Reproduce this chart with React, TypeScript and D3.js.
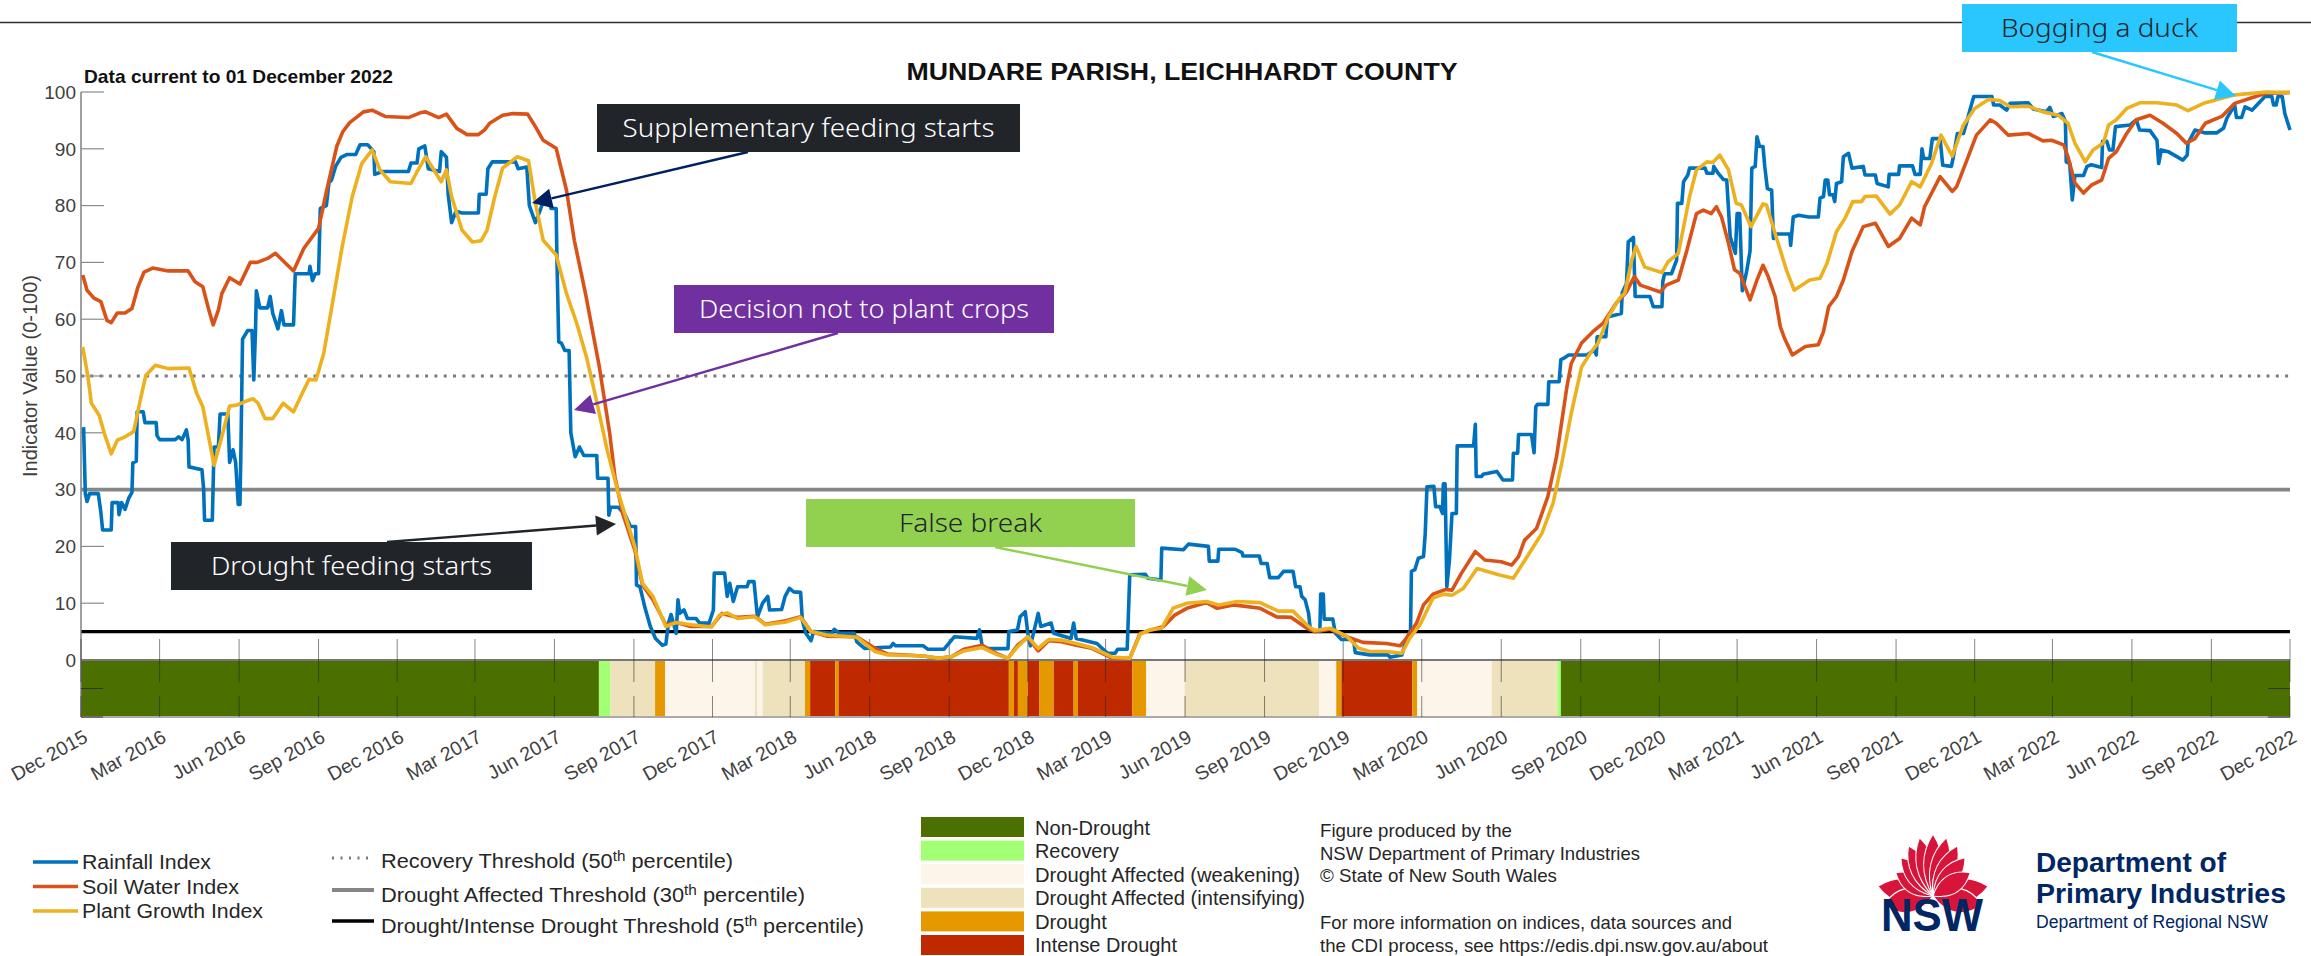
import React from 'react';
import * as d3 from 'd3';

// all series are [days since 1 Dec 2015, index value]
const rainfall: [number, number][] = [
  [3,41],[5,29.3],[7,27.9],[10,29.3],[20,29.3],[23,26],[25,22.9],[35,22.9],[36,27.7],[43,27.7],[44,25.6],[47,27.7],[51,26.5],[55,28.4],[59,29.5],[60,34.7],[64,35],[65,43.7],[72,43.7],[74,41.8],[87,41.8],[88,39.5],[91,38.8],[109,38.8],[113,39.3],[117,38.8],[122,40.5],[124,38.8],[125,34],[140,33.5],[142,30],[143,24.6],[152,24.6],[153,31],[154,37.5],[159,37.5],[161,43.3],[170,43.3],[172,34.8],[176,37],[179,34.8],[182,27.4],[184,27.4],[185,36],[187,56.5],[193,58],[198,58],[200,49.3],[202,58],[203,65],
  [207,62],[216,62],[219,64],[222,61],[228,58.3],[232,61.5],[235,59],[246,59],[248,68],[264,68],[265,69.3],[268,66.8],[271,68],[275,68],[277,79.5],[284,80],[287,84],[290,84.5],[295,87],[301,88.5],[308,89],[318,89],[323,90.7],[332,90.7],[339,89.5],[340,85.5],[349,86],[379,86],[382,87.5],[389,87.5],[391,90],[398,90.5],[402,86.5],[415,86],[417,89.5],[423,88.5],[425,82],[429,77],[434,79],[441,78.7],[460,78.7],[461,82],[469,82],[471,86.5],[476,87.7],[503,87.7],[506,86.5],[516,86.8],[519,80],[526,77],[531,79],[537,81.5],[541,81.5],[544,79.5],[550,79.5],[551,70],[553,56],[556,55.8],[560,54.5],[565,54.5],[567,40],
  [572,35.8],[577,37.5],[582,36],[597,36],[598,32],[610,32],[611,25.5],[613,26.9],[622,26.9],[630,25.5],[636,23.5],[642,23.5],[643,13.2],[647,12.9],[653,9.1],[659,5.9],[665,3.8],[673,2.6],[677,2.8],[680,6.5],[683,8],[689,4.7],[691,10.6],[693,8.2],[698,8.8],[702,7.3],[712,7.3],[716,6.5],[727,6.5],[732,8.8],[733,15.3],[745,15.3],[748,11.2],[751,13.5],[755,10.3],[760,12.9],[771,12.9],[773,13.8],[779,13.8],[783,7.6],[789,10],[795,11.2],[797,8.8],[811,8.9],[815,11.2],[820,12.6],[825,12],[833,11.9],[835,7],[839,4.7],[845,3.4],[848,5],[869,4.7],[872,5.4],[878,4.7],[895,4.7],[898,3.2],[907,2.05],[937,2.3],[940,2.9],[943,2.5],[975,2.5],[980,1.9],[999,1.9],[1011,4.1],[1037,3.8],[1040,5.3],[1043,2.6],[1049,2],[1073,2],[1074,5],[1084,5.3],[1087,7.6],[1093,8.5],[1096,4.7],[1099,2.5],[1108,8.2],[1111,5.9],[1123,6.5],[1126,4.7],[1146,3.8],[1149,6.5],[1152,3.8],[1176,2.9],[1188,1.2],[1197,1.2],[1200,1.9],[1211,1.9],[1214,15],[1232,15.1],[1235,14.4],
  [1250,14.1],[1251,19.7],[1276,19.4],[1282,20.4],[1305,20],[1306,17.4],[1316,17.4],[1317,19.5],[1336,19.5],[1344,18.9],[1345,18.3],[1364,18.3],[1366,17],[1373,17],[1376,14.5],[1386,14.5],[1392,15.6],[1403,15.6],[1406,12.9],[1411,12.9],[1413,11.2],[1417,10.6],[1421,8.2],[1423,5.3],[1434,5],[1435,11.6],[1438,11.6],[1439,7.2],[1449,7.2],[1452,4.7],[1459,3.6],[1473,3.6],[1475,1.3],[1492,0.9],[1513,0.9],[1515,0.5],[1529,0.9],[1534,3.5],[1539,5.3],[1540,15.6],[1544,15.9],[1548,17.9],[1554,18.2],[1556,22.3],[1558,30.5],[1566,30.6],[1568,27],[1573,27],[1576,25.8],[1577,31],[1579,31],[1581,12.9],[1584,17.6],[1587,25.8],[1592,25.8],[1593,37.7],[1612,37.7],[1614,41.5],[1615,32.3],[1621,32.3],[1623,32.7],[1633,33],[1639,33.2],[1646,31.7],[1657,31.7],[1658,36.4],[1663,36.4],[1664,39.7],[1679,39.7],[1682,36.5],[1684,44.6],[1686,45],[1698,45],[1699,49],[1711,49],[1713,52.9],
  [1716,53.1],[1722,53.7],[1743,53.7],[1752,54.6],[1754,53.7],[1755,56.9],[1765,56.9],[1767,60.4],[1783,61],[1784,64.6],[1789,66.3],[1791,73.6],[1797,74.4],[1799,64],[1816,64],[1820,62.2],[1830,62.2],[1831,66.6],[1833,68],[1841,68],[1847,70.4],[1848,80.4],[1853,80.4],[1855,84.2],[1860,85.4],[1862,86.6],[1880,86.6],[1882,85.7],[1889,85.7],[1890,86.9],[1895,85.7],[1901,84.6],[1905,84.5],[1909,74.5],[1915,71.6],[1917,78.6],[1920,78.6],[1923,65],[1928,68.4],[1932,72],[1934,86.6],[1938,86.9],[1940,92.1],[1943,90.4],[1947,90.4],[1949,86.9],[1952,83],[1957,82.7],[1959,74.2],[1963,75],[1978,75],[1979,73],[1982,78],[1988,78.3],[2000,78],[2011,78],[2013,81.3],[2017,81.6],[2019,84.5],[2022,84.5],[2024,81.9],[2028,81.9],[2030,80.7],[2032,83.9],[2038,84.2],[2040,88.6],[2046,89.2],[2050,86.6],[2063,86.9],[2065,85.4],[2077,85.4],[2079,83.9],[2092,83.3],[2093,85.5],[2104,85.5],[2105,87],
  [2120,87],[2123,85.5],[2129,85.5],[2131,90],[2133,88.3],[2140,88.3],[2143,91.8],[2152,91.8],[2155,87.1],[2165,86.9],[2167,88.3],[2172,92.7],[2179,92.7],[2183,94.8],[2187,97.1],[2191,99.2],[2212,99.2],[2214,97.7],[2221,97.7],[2229,96.8],[2233,98],[2254,98.1],[2260,97],[2275,96.5],[2279,97.3],[2283,95.7],[2293,96.2],[2297,94.8],[2298,87.7],[2302,87.4],[2305,81],[2308,85.3],[2318,85.3],[2322,86.9],[2327,87.2],[2339,86.7],[2340,91.3],[2345,91.3],[2348,89.8],[2352,89.8],[2355,93.9],[2372,94.2],[2379,95.1],[2383,93.3],[2395,93.2],[2403,91.5],[2405,87.4],[2408,89.8],[2416,89.5],[2433,88],[2438,88.9],[2439,91],[2447,93.3],[2459,92.8],[2472,92.8],[2480,93.6],[2484,95.4],[2493,97.7],[2495,95.5],[2501,95.5],[2505,97.4],[2513,96.8],[2528,99.2],[2536,99.2],[2538,97.7],[2541,97.7],[2543,99.2],[2548,99.2],[2551,96.2],[2557,93.3],
];

const soilWater: [number, number][] = [
  [2,67.8],[7,65.1],[15,63.7],[23,63.1],[30,59.8],[35,59.4],[42,61.1],[51,61.1],[59,61.9],[66,65.7],[73,68.3],[83,69],[101,68.5],[124,68.5],[132,66.6],[141,65.7],[148,61.6],[153,59],[159,61.6],[163,64.5],[172,67.3],[184,66.2],[196,70],[204,70],[216,70.7],[225,71.6],[246,68.5],[258,72.5],[275,76],[284,82.4],[296,90.4],[303,93],[311,94.6],[327,96.5],[337,96.8],[352,95.7],[379,95.5],[394,96.4],[399,96.5],[414,95.5],[423,96.1],[435,93.6],[447,92.5],[460,92.5],[467,93.3],[473,94.5],[488,95.9],[500,96.2],[517,96.1],[526,93.9],[535,91.5],[550,90.1],[562,82.7],[571,73.9],[584,64.5],[600,51.6],[612,39.9],[618,32.3],[627,25.8],[641,19.4],[650,13.2],[662,10.6],[677,6.2],[689,6.6],[706,5.9],[730,5.9],[742,8.2],[760,7.5],[780,7.7],[792,6.3],[816,6.9],[833,7.6],[845,5],[863,4.2],[898,4.1],[919,2.05],[934,1.05],[975,0.7],[993,0.3],[1008,0.6],[1022,1.9],[1043,2.6],[1061,1.05],[1073,0.3],[1084,2.6],[1096,4],[1108,1.6],[1120,3.4],[1135,3.2],[1152,2.6],[1170,2.05],[1194,0.3],[1214,0.3],[1226,4.7],[1253,5.9],[1266,7.9],[1280,9.1],[1303,10.1],[1315,9.1],[1334,9.7],[1365,9.1],[1384,7.6],[1401,7.5],[1419,5.6],[1428,5],[1446,5.4],[1465,4.1],[1484,3.1],[1511,2.9],[1527,2.5],[1534,3.8],[1546,6.5],[1554,9.7],[1565,11.6],[1579,12.4],[1587,12.3],[1598,15.3],[1614,19.1],[1625,17.6],[1644,17.3],[1656,16.7],[1664,18.2],[1671,21.1],[1685,23.2],[1698,28.8],[1708,35.8],[1720,48.1],[1725,52.2],[1737,55.8],[1750,57.8],[1762,59.3],[1777,62.8],[1789,64.8],[1798,67.5],[1805,66],[1828,64.8],[1835,66],[1849,66.9],[1859,72.2],[1870,78.6],[1878,79.2],[1887,78.6],[1893,79.8],[1899,78],[1907,73.4],[1914,68.7],[1920,68.1],[1932,63.4],[1940,66.9],[1947,69.5],[1953,67.5],[1961,64],[1967,58.7],[1972,56.6],[1981,53.7],[1996,55.2],[2011,55.5],[2017,57.8],[2023,62.2],[2032,64],[2040,66.9],[2050,71.9],[2063,76.3],[2077,76.9],[2092,72.8],[2105,74.2],[2119,77.8],[2129,76.6],[2134,79.8],[2152,85.1],[2166,82.5],[2171,83.3],[2183,88],[2194,92.4],[2210,95.1],[2217,94.5],[2231,92.4],[2254,92.7],[2271,91.4],[2281,91.5],[2295,90.7],[2300,88.6],[2308,84],[2318,82.2],[2327,83.6],[2339,84.5],[2347,88.3],[2356,89.5],[2368,92.7],[2379,95.1],[2395,95.9],[2410,94.5],[2426,92.7],[2437,91],[2447,91.8],[2459,94.5],[2478,95.7],[2493,98],[2511,98.9],[2530,99.8],[2557,99.9],
];

const plantGrowth: [number, number][] = [
  [2,55.1],[8,49.9],[12,45.2],[21,43.1],[27,39.9],[35,36.3],[42,38.7],[51,39.3],[61,40.2],[69,46],[75,50.1],[86,51.9],[101,51.3],[125,51.4],[134,46.9],[141,44.6],[154,34.3],[163,39.3],[172,44.7],[181,44.9],[190,45.5],[199,46],[205,45.2],[213,42.5],[222,42.5],[234,45.2],[246,43.7],[255,46.6],[264,49.4],[272,49.3],[281,54],[293,64.5],[302,72.5],[314,81.6],[325,87.4],[337,89.8],[346,86.3],[358,84.2],[382,83.9],[388,85.7],[399,88.6],[417,84.2],[423,86.3],[429,81.6],[441,75.7],[453,73.6],[463,73.8],[470,75.7],[479,81.6],[488,86.6],[505,88.6],[518,87.9],[526,80.4],[535,73.9],[550,71.3],[562,64.5],[574,59.2],[585,53.4],[594,47.5],[609,37],[621,29.9],[641,20],[650,13.5],[662,11.2],[677,5.9],[689,6.6],[706,6.2],[730,5.8],[739,7.9],[748,8.3],[760,7.3],[780,7.6],[792,6.2],[816,6.7],[833,7.5],[845,5],[863,4.4],[898,4],[919,1.5],[934,0.9],[975,0.7],[993,0.3],[1008,0.6],[1022,1.6],[1043,2.2],[1061,0.9],[1073,0.3],[1084,2.3],[1096,4.1],[1108,2.05],[1120,3.6],[1135,3.5],[1152,2.9],[1170,2.2],[1194,0.5],[1214,0.3],[1226,4.5],[1237,5.3],[1251,5.6],[1264,9.1],[1280,10],[1303,10.3],[1317,9.7],[1338,10.3],[1365,10.1],[1386,8.6],[1403,8.6],[1421,5.9],[1428,5.2],[1446,5.6],[1465,4.2],[1479,2.05],[1492,1.5],[1511,1.5],[1529,1.2],[1538,3.8],[1550,6.2],[1565,10.9],[1577,11.6],[1587,11.4],[1600,12.6],[1616,16.1],[1641,15],[1658,14.4],[1679,19.4],[1691,22.3],[1704,27.6],[1714,34.6],[1725,43.4],[1737,51.6],[1747,54],[1756,55.8],[1768,60.4],[1781,63.7],[1787,64.6],[1795,70.4],[1800,72.8],[1810,69.2],[1830,68.2],[1837,70.1],[1849,71.6],[1862,81.6],[1870,86.3],[1882,87.7],[1889,87.6],[1897,88.9],[1907,86.3],[1916,80.4],[1922,80.1],[1933,76.3],[1947,80.3],[1951,80.1],[1961,75.1],[1974,68.7],[1983,65.1],[2001,66.9],[2013,67.2],[2021,69.8],[2032,75.4],[2042,77.8],[2051,80.7],[2061,80.7],[2065,81.6],[2078,81.7],[2094,78.5],[2105,80.1],[2119,84.2],[2129,83.3],[2142,87.4],[2153,92.4],[2166,88.7],[2179,94.2],[2192,97.1],[2208,98.7],[2221,98.5],[2233,97.4],[2254,97.5],[2271,96.5],[2289,95.9],[2300,94.5],[2308,91],[2320,87.7],[2329,89.8],[2341,91],[2347,94.2],[2356,95.1],[2368,97.1],[2383,98.1],[2403,98.1],[2426,97.7],[2439,96.7],[2457,98],[2493,99.5],[2530,100],[2557,99.9],
];

// drought category spans: [end day, category]; each starts where the previous ends
const cdiSpans: [number, number][] = [
  [599.5,0],[613,1],[664.5,3],[676,4],[780,2],[783,3],[789,2],[838,3],[844,4],[873,5],[877,4],[1074,5],[1080,4],[1084.5,5],[1096,4],[1109,5],[1126,4],[1149,5],[1154,4],[1217,5],[1233,4],[1277.5,2],[1433,3],[1453,2],[1459,4],[1541,5],[1546.5,4],[1633,2],[1709,3],[1713,1],[2557,0],
];

const cdiLabels = ['Non-Drought', 'Recovery', 'Drought Affected (weakening)', 'Drought Affected (intensifying)', 'Drought', 'Intense Drought'];
const cdiColors = ['#4C7000', '#A3FF73', '#FDF5E9', '#EEE2BD', '#E69800', '#BE2900'];
const cdiLabelWidths = [115, 84, 265, 270, 72, 142];

const yTicks = [0, 10, 20, 30, 40, 50, 60, 70, 80, 90, 100];

const indexNames = ['Rainfall Index', 'Soil Water Index', 'Plant Growth Index'];
const indexColors = ['#0072BD', '#D95319', '#EDB120'];
const indexWidths = [129, 157, 181];

const creditLines: [string, number, number][] = [
  ['Figure produced by the', 837, 192],
  ['NSW Department of Primary Industries', 860, 320],
  ['© State of New South Wales', 882, 237],
  ['For more information on indices, data sources and', 929, 412],
  ['the CDI process, see https://edis.dpi.nsw.gov.au/about', 952, 448],
];

const callouts = [
  { text: 'Supplementary feeding starts', box: [597, 104, 423, 48], fill: '#212529', ink: '#fff', line: '#002060', from: [748, 152], to: [532, 203], tw: 372 },
  { text: 'Decision not to plant crops', box: [674, 285, 380, 48], fill: '#7030A0', ink: '#fff', line: '#7030A0', from: [838, 333], to: [574, 410], tw: 330 },
  { text: 'Drought feeding starts', box: [171, 542, 361, 48], fill: '#212529', ink: '#fff', line: '#212529', from: [387, 542], to: [616, 524], tw: 281 },
  { text: 'False break', box: [806, 499, 329, 48], fill: '#92D050', ink: '#212529', line: '#92D050', from: [995, 547], to: [1207, 590], tw: 143 },
  { text: 'Bogging a duck', box: [1962, 4, 275, 48], fill: '#2AC7FF', ink: '#212529', line: '#2AC7FF', from: [2092, 52], to: [2236, 96], tw: 197 },
];

const start = new Date(Date.UTC(2015, 11, 1));
const end = new Date(Date.UTC(2022, 11, 1));
const dayToDate = (d: number) => new Date(start.getTime() + d * 864e5);

const sans = '"Liberation Sans", Arial, sans-serif';
const callFont = '"Noto Sans", Roboto, sans-serif';

const Arrow = ({ from, to, color }: { from: number[]; to: number[]; color: string }) => {
  const a = Math.atan2(to[1] - from[1], to[0] - from[0]);
  const len = 20, half = 10;
  const bx = to[0] - len * Math.cos(a), by = to[1] - len * Math.sin(a);
  const pts = [
    [to[0], to[1]],
    [bx - half * Math.sin(a), by + half * Math.cos(a)],
    [bx + half * Math.sin(a), by - half * Math.cos(a)],
  ];
  return (
    <g>
      <line x1={from[0]} y1={from[1]} x2={bx} y2={by} stroke={color} strokeWidth={2.4} />
      <polygon points={pts.map(p => p.join(',')).join(' ')} fill={color} />
    </g>
  );
};

const Waratah = () => {
  const upper = [[-58, 44], [-40, 50], [-26, 56], [-13, 60], [0, 62], [13, 60], [26, 56], [40, 50], [58, 44]];
  const lower = [[-80, 56], [80, 56], [-100, 50], [100, 50]];
  const petal = (l: number, w: number) =>
    `M0,0C${w},${-l * 0.35} ${w * 0.9},${-l * 0.7} 0,${-l}C${-w * 0.9},${-l * 0.7} ${-w},${-l * 0.35} 0,0Z`;
  return (
    <g transform="translate(1933,896)">
      {lower.map((p, i) => (
        <path key={i} d={petal(p[1], 17)} transform={`rotate(${p[0]})`} fill="#D7153A" stroke="#fff" strokeWidth={1.2} />
      ))}
      {upper.map((p, i) => (
        <path key={i} d={petal(p[1], 13)} transform={`rotate(${p[0]})`} fill="#D7153A" stroke="#fff" strokeWidth={1.2} />
      ))}
    </g>
  );
};

export default function App() {
  const x = d3.scaleUtc().domain([start, end]).range([81, 2290]);
  const y = d3.scaleLinear().domain([0, 100]).range([660, 92]);
  const bandTop = 660, bandBottom = 717;

  const line = d3.line<[number, number]>()
    .x(d => x(dayToDate(d[0])))
    .y(d => y(d[1]));

  const xTicks = d3.utcMonth.range(start, new Date(end.getTime() + 864e5), 3);
  const fmt = d3.utcFormat('%b %Y');

  let prev = 0;
  const spans = cdiSpans.map(([e, c]) => {
    const s = { x0: x(dayToDate(prev)), x1: x(dayToDate(e)), c };
    prev = e;
    return s;
  });

  const tick = '#404040';

  return (
    <svg width={2311} height={956} style={{ position: 'absolute', left: 0, top: 0, background: '#fff' }} fontFamily={sans}>
      <line x1={0} x2={2311} y1={22.5} y2={22.5} stroke="#2b2f33" strokeWidth={1.5} />

      <text x={1182} y={80} textAnchor="middle" fontSize={24} fontWeight="bold" fill="#111" textLength={551} lengthAdjust="spacingAndGlyphs">MUNDARE PARISH, LEICHHARDT COUNTY</text>
      <text x={84} y={83} fontSize={19} fontWeight="bold" fill="#111" textLength={309} lengthAdjust="spacingAndGlyphs">Data current to 01 December 2022</text>

      {/* threshold lines */}
      <line x1={x(start)} x2={x(end)} y1={y(50)} y2={y(50)} stroke="#7a7a7a" strokeWidth={3.2} strokeDasharray="3 6.3" />
      <line x1={x(start)} x2={x(end)} y1={y(30)} y2={y(30)} stroke="#858585" strokeWidth={3.8} />
      <line x1={x(start)} x2={x(end)} y1={y(5)} y2={y(5)} stroke="#000" strokeWidth={3.4} />

      {/* drought category band */}
      {spans.map((s, i) => (
        <rect key={i} x={s.x0} y={bandTop} width={s.x1 - s.x0} height={bandBottom - bandTop} fill={cdiColors[s.c]} />
      ))}
      <line x1={81} x2={2290} y1={bandTop} y2={bandTop} stroke="#777" strokeWidth={2} />
      <line x1={81} x2={2290} y1={bandBottom} y2={bandBottom} stroke="#aaa" strokeWidth={2} />

      {/* axes */}
      <line x1={81} x2={81} y1={92} y2={bandBottom} stroke="#777" strokeWidth={1.4} />
      {yTicks.map(t => (
        <g key={t}>
          {t > 0 && <line x1={81} x2={104} y1={y(t)} y2={y(t)} stroke="#8a8a8a" strokeWidth={1.2} />}
          <text x={76} y={y(t) + 6.8} textAnchor="end" fontSize={19} fill={tick}>{t}</text>
        </g>
      ))}
      <line x1={81} x2={103} y1={688.5} y2={688.5} stroke="#333" strokeWidth={1} />
      <line x1={81} x2={103} y1={bandBottom} y2={bandBottom} stroke="#333" strokeWidth={1} />
      <line x1={2268} x2={2290} y1={688.5} y2={688.5} stroke="#333" strokeWidth={1} />
      <line x1={2268} x2={2290} y1={bandBottom} y2={bandBottom} stroke="#333" strokeWidth={1} />
      <text transform="translate(37,376) rotate(-90)" textAnchor="middle" fontSize={20} fill={tick} textLength={202} lengthAdjust="spacingAndGlyphs">Indicator Value (0-100)</text>

      {xTicks.map((t, i) => (
        <g key={i}>
          <line x1={x(t)} x2={x(t)} y1={639} y2={682} stroke="#222" strokeOpacity={0.55} strokeWidth={1} />
          <line x1={x(t)} x2={x(t)} y1={696} y2={bandBottom} stroke="#222" strokeOpacity={0.55} strokeWidth={1} />
          <text transform={`translate(${x(t) + 8},741) rotate(-29)`} textAnchor="end" fontSize={19.5} fill={tick}>{fmt(t)}</text>
        </g>
      ))}

      {/* index series */}
      <path d={line(rainfall) ?? ''} fill="none" stroke={indexColors[0]} strokeWidth={3.6} strokeLinejoin="round" />
      <path d={line(soilWater) ?? ''} fill="none" stroke={indexColors[1]} strokeWidth={3.6} strokeLinejoin="round" />
      <path d={line(plantGrowth) ?? ''} fill="none" stroke={indexColors[2]} strokeWidth={3.6} strokeLinejoin="round" />

      {/* callouts */}
      {callouts.map(c => (
        <g key={c.text}>
          <Arrow from={c.from} to={c.to} color={c.line} />
          <rect x={c.box[0]} y={c.box[1]} width={c.box[2]} height={c.box[3]} fill={c.fill} />
          <text x={c.box[0] + c.box[2] / 2} y={c.box[1] + 33} textAnchor="middle" fontSize={25} fontWeight={300} fill={c.ink} fontFamily={callFont} textLength={c.tw} lengthAdjust="spacingAndGlyphs">{c.text}</text>
        </g>
      ))}

      {/* line legend */}
      {indexNames.map((n, i) => (
        <g key={n}>
          <line x1={33} x2={78} y1={862 + i * 24.5} y2={862 + i * 24.5} stroke={indexColors[i]} strokeWidth={3.6} />
          <text x={82} y={869 + i * 24.5} fontSize={20} fill="#262626" textLength={indexWidths[i]} lengthAdjust="spacingAndGlyphs">{n}</text>
        </g>
      ))}
      <line x1={332} x2={372} y1={858} y2={858} stroke="#7a7a7a" strokeWidth={3} strokeDasharray="2 6.5" />
      <line x1={332} x2={374} y1={890} y2={890} stroke="#858585" strokeWidth={3.8} />
      <line x1={332} x2={374} y1={921} y2={921} stroke="#000" strokeWidth={3.4} />
      {([['Recovery Threshold (50', 868, 352], ['Drought Affected Threshold (30', 902, 424], ['Drought/Intense Drought Threshold (5', 933, 483]] as [string, number, number][]).map(([s, b, w]) => (
        <text key={s} x={381} y={b} fontSize={20} fill="#262626" textLength={w} lengthAdjust="spacingAndGlyphs">
          {s}<tspan dy={-7} fontSize={14}>th</tspan><tspan dy={7}> percentile)</tspan>
        </text>
      ))}

      {/* category legend */}
      {cdiLabels.map((n, i) => (
        <g key={n}>
          <rect x={921} y={817 + i * 23.6} width={103} height={20} fill={cdiColors[i]} />
          <text x={1035} y={835 + i * 23.4} fontSize={20} fill="#262626" textLength={cdiLabelWidths[i]} lengthAdjust="spacingAndGlyphs">{n}</text>
        </g>
      ))}

      {creditLines.map(([s, b, w]) => (
        <text key={s} x={1320} y={b} fontSize={19} fill="#262626" textLength={w} lengthAdjust="spacingAndGlyphs">{s}</text>
      ))}

      {/* logo */}
      <Waratah />
      <text x={1881} y={931} fontSize={47} fontWeight="bold" fill="#002664" textLength={102} lengthAdjust="spacingAndGlyphs">NSW</text>
      <text x={2036} y={872} fontSize={27} fontWeight="bold" fill="#002664" textLength={190} lengthAdjust="spacingAndGlyphs">Department of</text>
      <text x={2036} y={903} fontSize={27} fontWeight="bold" fill="#002664" textLength={250} lengthAdjust="spacingAndGlyphs">Primary Industries</text>
      <text x={2036} y={928} fontSize={18} fill="#002664" textLength={232} lengthAdjust="spacingAndGlyphs">Department of Regional NSW</text>
    </svg>
  );
}
